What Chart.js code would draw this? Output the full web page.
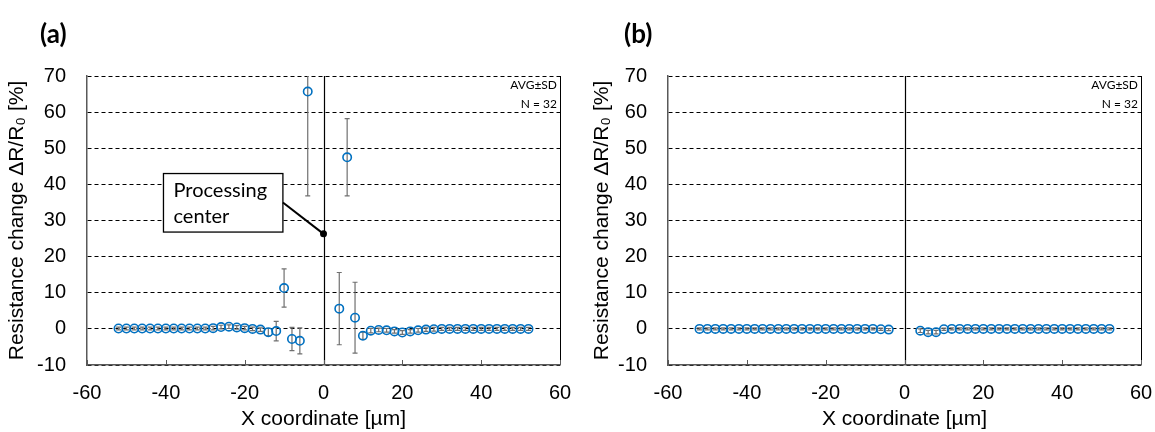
<!DOCTYPE html>
<html>
<head>
<meta charset="utf-8">
<script src="https://cdn.jsdelivr.net/npm/chart.js@4/dist/chart.umd.min.js"></script>
<style>
  html, body { margin: 0; padding: 0; background: #fff; }
  #page { position: relative; width: 1155px; height: 432px; overflow: hidden; }
  .panel { position: absolute; top: 0; height: 432px; }
  .tag { position: absolute; top: 17px; font: bold 26px Lato, "Open Sans", sans-serif; color: #000; }
</style>
</head>
<body>
<div id="page">
  <div class="panel" style="left:0;width:577px"><canvas id="chartA"></canvas></div>
  <div class="panel" style="left:577px;width:578px"><canvas id="chartB"></canvas></div>
  <div class="tag" style="left:40px">(a)</div>
  <div class="tag" style="left:624px">(b)</div>
</div>
<script>
// x positions of the measured points [µm]
const xCoord = [-52, -50, -48, -46, -44, -42, -40, -38, -36, -34, -32, -30, -28, -26, -24, -22, -20, -18, -16, -14, -12, -10, -8, -6, -4,
                4, 6, 8, 10, 12, 14, 16, 18, 20, 22, 24, 26, 28, 30, 32, 34, 36, 38, 40, 42, 44, 46, 48, 50, 52];

// panel (a) AVG and SD [%]
const avgA = [0.1, 0.1, 0.1, 0.1, 0.1, 0.1, 0.1, 0.1, 0.1, 0.1, 0.1, 0.1, 0.2, 0.5, 0.6, 0.4, 0.2, 0.0, -0.2, -0.9, -0.6, 11.3, -2.8, -3.3, 65.7,
              5.6, 47.5, 3.1, -1.9, -0.5, -0.3, -0.4, -0.7, -1.0, -0.7, -0.4, -0.2, -0.1, 0.0, 0.0, 0.0, 0.0, 0.0, 0.0, 0.0, 0.0, 0.0, 0.0, 0.0, 0.0];
const sdA = [0.4, 0.4, 0.4, 0.4, 0.4, 0.4, 0.4, 0.4, 0.4, 0.4, 0.4, 0.4, 0.5, 0.5, 0.5, 0.5, 0.5, 0.5, 0.5, 1.0, 2.7, 5.3, 3.2, 3.6, 28.9,
             10.0, 10.7, 9.8, 1.0, 0.6, 0.5, 0.5, 0.5, 0.5, 0.5, 0.5, 0.5, 0.5, 0.4, 0.4, 0.4, 0.4, 0.4, 0.4, 0.4, 0.4, 0.4, 0.4, 0.4, 0.4];

// panel (b) AVG and SD [%]
const avgB = [0.0, 0.0, 0.0, 0.0, 0.0, 0.0, 0.0, 0.0, 0.0, 0.0, 0.0, 0.0, 0.0, 0.0, 0.0, 0.0, 0.0, 0.0, 0.0, 0.0, 0.0, 0.0, 0.0, -0.1, -0.2,
              -0.5, -0.9, -0.9, -0.1, 0.0, 0.0, 0.0, 0.0, 0.0, 0.0, 0.0, 0.0, 0.0, 0.0, 0.0, 0.0, 0.0, 0.0, 0.0, 0.0, 0.0, 0.0, 0.0, 0.0, 0.0];
const sdB = [0.3, 0.3, 0.3, 0.3, 0.3, 0.3, 0.3, 0.3, 0.3, 0.3, 0.3, 0.3, 0.3, 0.3, 0.3, 0.3, 0.3, 0.3, 0.3, 0.3, 0.3, 0.3, 0.3, 0.3, 0.3,
             0.5, 0.5, 0.5, 0.3, 0.3, 0.3, 0.3, 0.3, 0.3, 0.3, 0.3, 0.3, 0.3, 0.3, 0.3, 0.3, 0.3, 0.3, 0.3, 0.3, 0.3, 0.3, 0.3, 0.3, 0.3];

const xTicks = [-60, -40, -20, 0, 20, 40, 60];
const yRange = [-10, 70];
const statsText = ["AVG\u00B1SD", "N = 32"];

// "Processing center" callout, in data units
const centerMark = { x: 0, y: 26.3 };
const noteBox = { x0: -40.6, x1: -10.3, y0: 43.0, y1: 26.8, lineY: 35.0 };
const noteLines = ["Processing", "center"];

const BLUE = "#0070C0";
const AXIS = "#595959";
const TICK_FONT = { family: "'Liberation Sans', Arial, sans-serif", size: 20 };
const TITLE_FONT = { family: "'Liberation Sans', Arial, sans-serif", size: 21 };

const panelDecor = {
    id: "panelDecor",
    beforeDatasetsDraw(chart, args, opts) {
        const { ctx, chartArea: a, scales: { x, y } } = chart;
        ctx.save();

        // right frame line
        ctx.strokeStyle = "#000";
        ctx.lineWidth = 1;
        ctx.beginPath();
        ctx.moveTo(a.right + 0.5, a.top);
        ctx.lineTo(a.right + 0.5, a.bottom);
        ctx.stroke();

        // x = 0 line
        const x0 = Math.round(x.getPixelForValue(0)) + 0.5;
        ctx.lineWidth = 1.2;
        ctx.beginPath();
        ctx.moveTo(x0, a.top);
        ctx.lineTo(x0, a.bottom);
        ctx.stroke();

        // inner tick marks on the x axis
        ctx.strokeStyle = AXIS;
        ctx.lineWidth = 1;
        xTicks.forEach(t => {
            const px = Math.round(x.getPixelForValue(t)) + 0.5;
            ctx.beginPath();
            ctx.moveTo(px, a.bottom);
            ctx.lineTo(px, a.bottom - 5);
            ctx.stroke();
        });

        // error bars
        ctx.beginPath();
        ctx.rect(a.left, a.top, a.right - a.left, a.bottom - a.top);
        ctx.clip();
        ctx.strokeStyle = "#707070";
        ctx.lineWidth = 1.2;
        opts.avg.forEach((v, i) => {
            const px = x.getPixelForValue(xCoord[i]);
            const hi = y.getPixelForValue(v + opts.sd[i]);
            const lo = y.getPixelForValue(v - opts.sd[i]);
            ctx.beginPath();
            ctx.moveTo(px, hi);
            ctx.lineTo(px, lo);
            ctx.moveTo(px - 2.5, hi);
            ctx.lineTo(px + 2.5, hi);
            ctx.moveTo(px - 2.5, lo);
            ctx.lineTo(px + 2.5, lo);
            ctx.stroke();
        });
        ctx.restore();
    },
    afterDatasetsDraw(chart, args, opts) {
        const { ctx, chartArea: a, scales: { x, y } } = chart;
        ctx.save();
        ctx.fillStyle = "#000";
        ctx.font = "12px Lato, sans-serif";
        ctx.textAlign = "right";
        ctx.textBaseline = "middle";
        ctx.fillText(statsText[0], a.right - 3, a.top + 9);
        ctx.fillText(statsText[1], a.right - 3, a.top + 28);

        if (opts.note) {
            const bx0 = x.getPixelForValue(noteBox.x0);
            const bx1 = x.getPixelForValue(noteBox.x1);
            const by0 = y.getPixelForValue(noteBox.y0);
            const by1 = y.getPixelForValue(noteBox.y1);
            const mx = x.getPixelForValue(centerMark.x);
            const my = y.getPixelForValue(centerMark.y);

            ctx.fillStyle = "#fff";
            ctx.fillRect(bx0, by0, bx1 - bx0, by1 - by0);
            ctx.strokeStyle = "#000";
            ctx.lineWidth = 1.3;
            ctx.strokeRect(bx0, by0, bx1 - bx0, by1 - by0);

            ctx.lineWidth = 2;
            ctx.beginPath();
            ctx.moveTo(bx1, y.getPixelForValue(noteBox.lineY));
            ctx.lineTo(mx, my);
            ctx.stroke();
            ctx.fillStyle = "#000";
            ctx.beginPath();
            ctx.arc(mx, my, 3.5, 0, Math.PI * 2);
            ctx.fill();

            ctx.font = "20px Lato, sans-serif";
            ctx.textAlign = "left";
            ctx.fillText(noteLines[0], bx0 + 10, by0 + 17);
            ctx.fillText(noteLines[1], bx0 + 10, by0 + 43);
        }
        ctx.restore();
    }
};

function makeChart(id, avg, sd, axisWidth, titlePad, padRight, note) {
    const points = xCoord.map((xv, i) => ({ x: xv, y: avg[i] }));
    return new Chart(document.getElementById(id), {
        type: "scatter",
        data: {
            datasets: [{
                data: points,
                pointStyle: "circle",
                pointRadius: 4.2,
                pointHoverRadius: 4.2,
                pointBorderWidth: 1.6,
                borderColor: BLUE,
                backgroundColor: "rgba(0,0,0,0)"
            }]
        },
        options: {
            responsive: true,
            maintainAspectRatio: false,
            animation: false,
            events: [],
            layout: { padding: { left: 0, right: padRight, top: 76, bottom: 0 } },
            plugins: {
                legend: { display: false },
                tooltip: { enabled: false },
                panelDecor: { avg: avg, sd: sd, note: note }
            },
            scales: {
                x: {
                    type: "linear",
                    min: xTicks[0],
                    max: xTicks[xTicks.length - 1],
                    afterBuildTicks: s => { s.ticks = xTicks.map(v => ({ value: v })); },
                    afterFit: s => { s.height = 67; s.paddingLeft = 0; s.paddingRight = 0; },
                    grid: { display: false, drawTicks: false },
                    border: { display: true, color: AXIS, width: 1.5 },
                    ticks: { color: "#000", font: TICK_FONT, padding: 16, maxRotation: 0 },
                    title: { display: true, text: "X coordinate [\u00B5m]", color: "#000", font: TITLE_FONT, padding: { top: 0, bottom: 0 } }
                },
                y: {
                    type: "linear",
                    min: yRange[0],
                    max: yRange[1],
                    ticks: { stepSize: 10, color: "#000", font: TICK_FONT, padding: 21 },
                    afterFit: s => { s.width = axisWidth; },
                    grid: { color: "#000", lineWidth: 1, drawTicks: false },
                    border: { display: true, color: AXIS, width: 1.5, dash: [4, 3] },
                    title: { display: true, text: "Resistance change \u0394R/R\u2080 [%]", color: "#000", font: TITLE_FONT, padding: { top: titlePad, bottom: 0 } }
                }
            }
        },
        plugins: [panelDecor]
    });
}

makeChart("chartA", avgA, sdA, 87, 5, 17, true);
makeChart("chartB", avgB, sdB, 91, 13, 14, false);
</script>
</body>
</html>
